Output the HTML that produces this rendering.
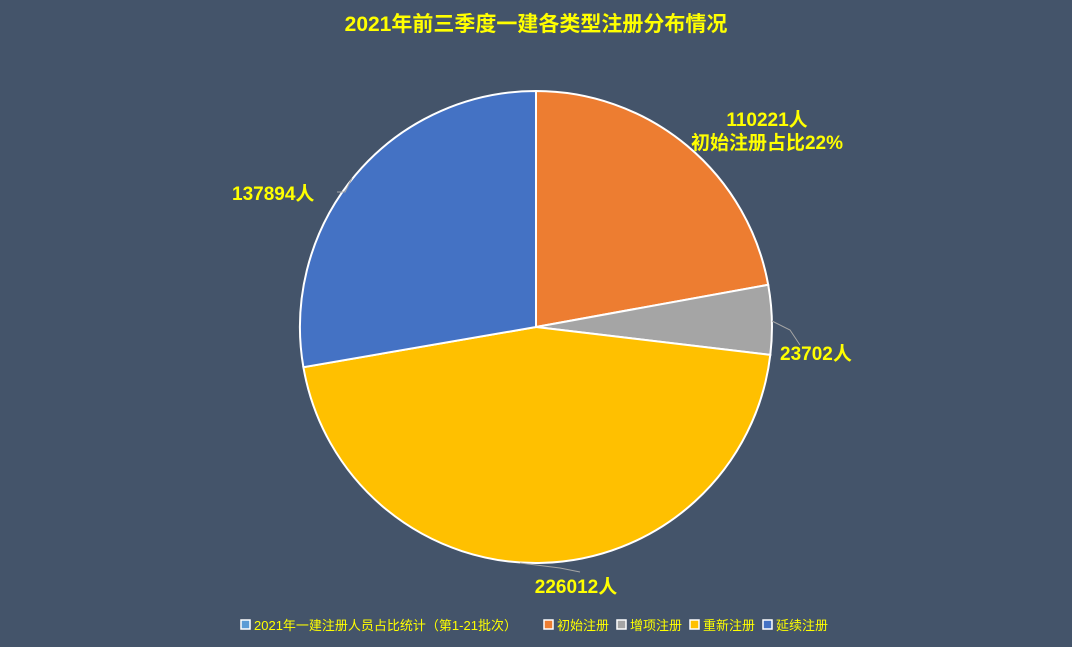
<!DOCTYPE html>
<html><head><meta charset="utf-8"><style>
body{margin:0;background:#44546a;}
svg{display:block;font-family:"Liberation Sans","Noto Sans CJK SC",sans-serif;}
</style></head><body>
<svg width="1072" height="647" viewBox="0 0 1072 647">
<rect width="1072" height="647" fill="#44546a"/>
<text x="536" y="31" text-anchor="middle" font-size="21" font-weight="bold" fill="#ffff00">2021年前三季度一建各类型注册分布情况</text>
<g stroke="#fff" stroke-width="2">
<path d="M536,327 L536,91 A236,236 0 0 1 768.2,284.8 Z" fill="#ed7d31"/>
<path d="M536,327 L768.2,284.8 A236,236 0 0 1 770.3,354.9 Z" fill="#a5a5a5"/>
<path d="M536,327 L770.3,354.9 A236,236 0 0 1 303.4,367.2 Z" fill="#ffc000"/>
<path d="M536,327 L303.4,367.2 A236,236 0 0 1 536,91 Z" fill="#4472c4"/>
</g>
<g stroke="#a5a5a5" stroke-width="1" fill="none">
<polyline points="772,321 790,330 800,345"/>
<polyline points="352,178 345,192 337,192"/>
<polyline points="520,563 560,568 580,572"/>
</g>
<g font-size="19" font-weight="bold" fill="#ffff00">
<text x="767" y="126" text-anchor="middle">110221人</text>
<text x="767" y="149" text-anchor="middle">初始注册占比22%</text>
<text x="780" y="360">23702人</text>
<text x="232" y="200">137894人</text>
<text x="576" y="593" text-anchor="middle">226012人</text>
</g>
<g font-size="13" fill="#ffff00">
<rect x="241" y="620" width="9" height="9" fill="#5b9bd5" stroke="#fff" stroke-width="1.5"/>
<text x="254" y="630">2021年一建注册人员占比统计（第1-21批次）</text>
<rect x="544" y="620" width="9" height="9" fill="#ed7d31" stroke="#fff" stroke-width="1.5"/>
<text x="557" y="630">初始注册</text>
<rect x="617" y="620" width="9" height="9" fill="#a5a5a5" stroke="#fff" stroke-width="1.5"/>
<text x="630" y="630">增项注册</text>
<rect x="690" y="620" width="9" height="9" fill="#ffc000" stroke="#fff" stroke-width="1.5"/>
<text x="703" y="630">重新注册</text>
<rect x="763" y="620" width="9" height="9" fill="#4472c4" stroke="#fff" stroke-width="1.5"/>
<text x="776" y="630">延续注册</text>
</g>
</svg>
</body></html>
